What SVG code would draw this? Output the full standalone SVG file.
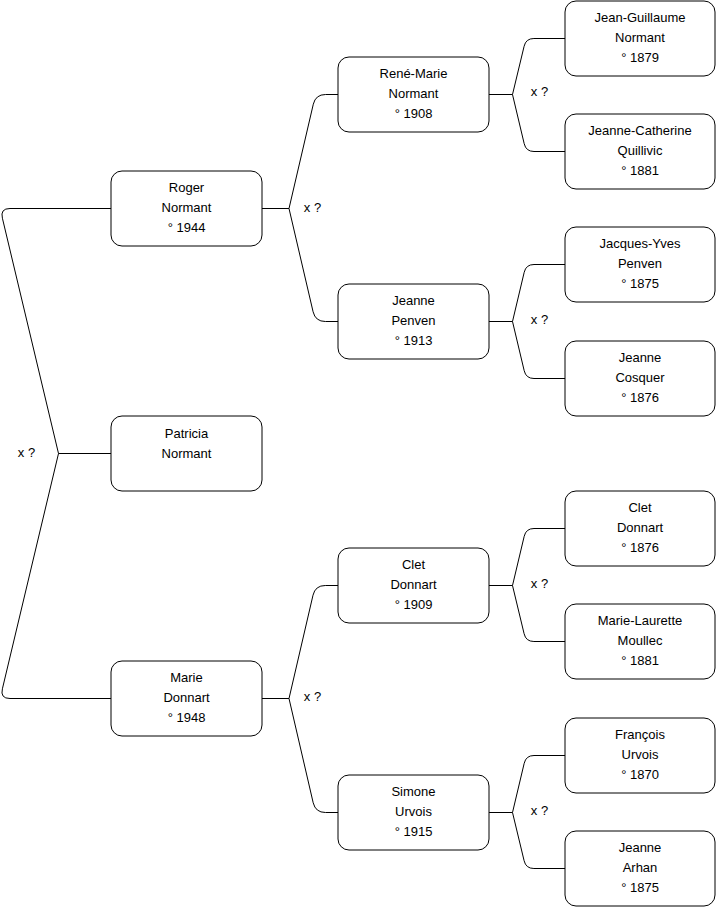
<svg xmlns="http://www.w3.org/2000/svg" width="716" height="908" viewBox="0 0 716 908">
<style>
.box{fill:#fff;stroke:#000;stroke-width:1}
.t{font-family:"Liberation Sans",Arial,sans-serif;font-size:13px;fill:#000;text-anchor:middle}
.c{fill:none;stroke:#000;stroke-width:1}
</style>
<rect width="716" height="908" fill="#fff"/>
<g id="connectors">
<path class="c" d="M111,453.5 H58.5 M58.5,453.5 L2.4,218.2 Q0,208.5 10,208.5 H111 M58.5,453.5 L2.4,688.8 Q0,698.5 10,698.5 H111"/>
<path class="c" d="M262,208.5 H289 M289,208.5 L313.3,104.2 Q315.6,94.5 325.6,94.5 H338 M289,208.5 L313.1,311.8 Q315.4,321.5 325.4,321.5 H338"/>
<path class="c" d="M262,698.5 H289 M289,698.5 L313,595.2 Q315.3,585.5 325.3,585.5 H338 M289,698.5 L313.2,802.8 Q315.5,812.5 325.5,812.5 H338"/>
<path class="c" d="M489,94.5 H512.5 M512.5,94.5 L524.1,46.3 Q525.9,38.5 533.9,38.5 H565 M512.5,94.5 L524.2,143.7 Q526,151.5 534,151.5 H565"/>
<path class="c" d="M489,321.5 H512.5 M512.5,321.5 L524.2,272.3 Q526,264.5 534,264.5 H565 M512.5,321.5 L524.2,370.7 Q526,378.5 534,378.5 H565"/>
<path class="c" d="M489,585.5 H512.5 M512.5,585.5 L524.2,536.3 Q526,528.5 534,528.5 H565 M512.5,585.5 L524.1,633.7 Q525.9,641.5 533.9,641.5 H565"/>
<path class="c" d="M489,812.5 H512.5 M512.5,812.5 L524.2,763.3 Q526,755.5 534,755.5 H565 M512.5,812.5 L524.1,860.7 Q525.9,868.5 533.9,868.5 H565"/>
<text class="t" x="26.5" y="457">x ?</text>
<text class="t" x="312.5" y="212">x ?</text>
<text class="t" x="312.5" y="701">x ?</text>
<text class="t" x="539.5" y="96">x ?</text>
<text class="t" x="539.5" y="324">x ?</text>
<text class="t" x="539.5" y="588">x ?</text>
<text class="t" x="539.5" y="815">x ?</text>
</g>
<g id="roger"><rect class="box" x="111" y="171" width="151" height="75" rx="11"/><text class="t" x="186.5" y="191.5">Roger</text><text class="t" x="186.5" y="211.5">Normant</text><text class="t" x="186.5" y="231.5">° 1944</text></g>
<g id="patricia"><rect class="box" x="111" y="416" width="151" height="75" rx="11"/><text class="t" x="186.5" y="437.5">Patricia</text><text class="t" x="186.5" y="457.5">Normant</text></g>
<g id="marie"><rect class="box" x="111" y="661" width="151" height="75" rx="11"/><text class="t" x="186.5" y="681.5">Marie</text><text class="t" x="186.5" y="701.5">Donnart</text><text class="t" x="186.5" y="721.5">° 1948</text></g>
<g id="rene-marie"><rect class="box" x="338" y="57" width="151" height="75" rx="11"/><text class="t" x="413.5" y="77.5">René-Marie</text><text class="t" x="413.5" y="97.5">Normant</text><text class="t" x="413.5" y="117.5">° 1908</text></g>
<g id="jeanne-penven"><rect class="box" x="338" y="284" width="151" height="75" rx="11"/><text class="t" x="413.5" y="304.5">Jeanne</text><text class="t" x="413.5" y="324.5">Penven</text><text class="t" x="413.5" y="344.5">° 1913</text></g>
<g id="clet-1909"><rect class="box" x="338" y="548" width="151" height="75" rx="11"/><text class="t" x="413.5" y="568.5">Clet</text><text class="t" x="413.5" y="588.5">Donnart</text><text class="t" x="413.5" y="608.5">° 1909</text></g>
<g id="simone"><rect class="box" x="338" y="775" width="151" height="75" rx="11"/><text class="t" x="413.5" y="795.5">Simone</text><text class="t" x="413.5" y="815.5">Urvois</text><text class="t" x="413.5" y="835.5">° 1915</text></g>
<g id="jean-guillaume"><rect class="box" x="565" y="1" width="150" height="75" rx="11"/><text class="t" x="640" y="21.5">Jean-Guillaume</text><text class="t" x="640" y="41.5">Normant</text><text class="t" x="640" y="61.5">° 1879</text></g>
<g id="jeanne-catherine"><rect class="box" x="565" y="114" width="150" height="75" rx="11"/><text class="t" x="640" y="134.5">Jeanne-Catherine</text><text class="t" x="640" y="154.5">Quillivic</text><text class="t" x="640" y="174.5">° 1881</text></g>
<g id="jacques-yves"><rect class="box" x="565" y="227" width="150" height="75" rx="11"/><text class="t" x="640" y="247.5">Jacques-Yves</text><text class="t" x="640" y="267.5">Penven</text><text class="t" x="640" y="287.5">° 1875</text></g>
<g id="jeanne-cosquer"><rect class="box" x="565" y="341" width="150" height="75" rx="11"/><text class="t" x="640" y="361.5">Jeanne</text><text class="t" x="640" y="381.5">Cosquer</text><text class="t" x="640" y="401.5">° 1876</text></g>
<g id="clet-1876"><rect class="box" x="565" y="491" width="150" height="75" rx="11"/><text class="t" x="640" y="511.5">Clet</text><text class="t" x="640" y="531.5">Donnart</text><text class="t" x="640" y="551.5">° 1876</text></g>
<g id="marie-laurette"><rect class="box" x="565" y="604" width="150" height="75" rx="11"/><text class="t" x="640" y="624.5">Marie-Laurette</text><text class="t" x="640" y="644.5">Moullec</text><text class="t" x="640" y="664.5">° 1881</text></g>
<g id="francois"><rect class="box" x="565" y="718" width="150" height="75" rx="11"/><text class="t" x="640" y="738.5">François</text><text class="t" x="640" y="758.5">Urvois</text><text class="t" x="640" y="778.5">° 1870</text></g>
<g id="jeanne-arhan"><rect class="box" x="565" y="831" width="150" height="75" rx="11"/><text class="t" x="640" y="851.5">Jeanne</text><text class="t" x="640" y="871.5">Arhan</text><text class="t" x="640" y="891.5">° 1875</text></g>
</svg>
